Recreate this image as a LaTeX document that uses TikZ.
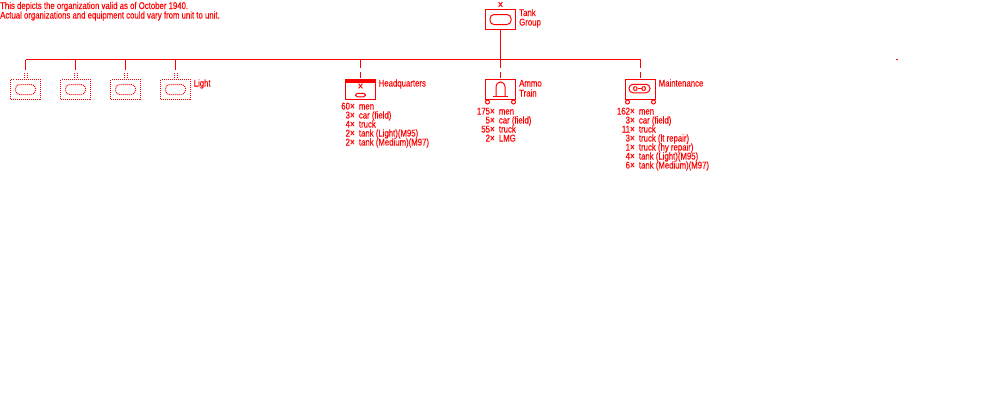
\documentclass[tikz,border=0pt]{standalone}
\usepackage{fontspec}
\setmainfont[FakeStretch=0.795,FakeBold=0.25]{Liberation Sans}
\definecolor{milred}{RGB}{255,0,0}
\newcommand{\fnt}{\fontsize{9.8}{9.8}\selectfont}
\newcommand{\bigx}{{\fontsize{10.4}{9.8}\selectfont ×}}
\tikzset{
  ink/.style={draw=milred,line width=1pt},
  unitbox/.style={ink,fill=white,rectangle,inner sep=0pt,minimum width=30pt,minimum height=20pt},
  dotbox/.style={unitbox,dash pattern=on 1pt off 1pt},
  pill/.style={ink,rectangle,rounded corners=4pt,inner sep=0pt},
  stub/.style={ink},
  whl/.style={ink,circle,inner sep=0pt,minimum size=4pt,fill=white},
  txt/.style={inner sep=0pt,text=milred,font=\fnt,anchor=base west,text height=6pt,text depth=1pt},
  cnt/.style={inner sep=0pt,text=milred,font=\fnt,anchor=base east,text height=6pt,text depth=1pt},
  mark x/.style={inner sep=0pt,text=milred,font=\fnt,anchor=base,text height=5pt,text depth=0pt},
}
\newcommand{\rowtxt}[5]{%
  \node[cnt] (#1c) at (#2,#3+3.5) {#4\bigx};
  \node[txt] (#1t) at (#2+3.7,#3+3.5) {#5};}
\begin{document}
\begin{tikzpicture}[x=1pt,y=-1pt]
\useasboundingbox (0,0) rectangle (1000,400);
% notes
\node[txt] (noteA) at (0,9) {This depicts the organization valid as of October 1940.};
\node[txt] (noteB) at (0,18.5) {Actual organizations and equipment could vary from unit to unit.};
% top unit
\node[unitbox] (group) at (500.5,19.5) {};
\node[pill,minimum width=21pt,minimum height=10pt] (groupsym) at (500.5,19.5) {};
\node[mark x] (groupx) at (500.5,8.3) {{\fontsize{11.5}{9.8}\selectfont ×}};
\node[txt] (groupa) at (519,16) {Tank};
\node[txt] (groupb) at (519,25.5) {Group};
% bar
\coordinate (j0) at (25.5,59.5);
\coordinate (j1) at (75.5,59.5);
\coordinate (j2) at (125.5,59.5);
\coordinate (j3) at (175.5,59.5);
\coordinate (jh) at (360.5,59.5);
\coordinate (ja) at (500.5,59.5);
\coordinate (jm) at (640.5,59.5);
\draw[ink] (j0) -- (jm);
% light units
\foreach \n/\x/\j in {l0/25.5/j0,l1/75.5/j1,l2/125.5/j2,l3/175.5/j3}{
  \node[dotbox] (\n) at (\x,89.5) {};
  \node[pill,dash pattern=on 1pt off 1pt,minimum width=20pt,minimum height=10pt] (\n s) at (\x,89.5) {};
  \coordinate (\n e) at (\x,70);
  \draw[ink] (\j) -- (\n e);
  \draw[ink,dash pattern=on 1pt off 1pt] (\x-1.5,73) -- (\x-1.5,78);
  \draw[ink,dash pattern=on 1pt off 1pt] (\x+1.5,73) -- (\x+1.5,78);
}
\node[txt] (lightl) at (193.5,86.5) {Light};
% HQ
\node[unitbox] (hq) at (360.5,89.5) {};
\fill[milred] (hq.north west) rectangle ([yshift=-4pt]hq.north east);
\node[mark x] (hqx) at (360.5,89.8) {{\fontsize{11.5}{9.8}\selectfont ×}};
\node[pill,rounded corners=1.7pt,minimum width=10pt,minimum height=3.5pt] (hqp) at (360.5,95) {};
\node[txt] (hql) at (378.5,86.5) {Headquarters};
\coordinate (hqs1) at (360.5,68);
\coordinate (hqs2) at (360.5,72);
\coordinate (hqs3) at (360.5,77.5);
\draw[ink] (jh) -- (hqs1);
\draw[stub] (hqs2) -- (hqs3);
\rowtxt{ha}{355}{106}{60}{men}
\rowtxt{hb}{355}{115}{3}{car (field)}
\rowtxt{hc}{355}{124}{4}{truck}
\rowtxt{hd}{355}{133}{2}{tank (Light)(M95)}
\rowtxt{he}{355}{142}{2}{tank (Medium)(M97)}
% Ammo
\node[unitbox] (am) at (500.5,89.5) {};
\draw[ink] (493,96.7) -- (508,96.7);
\draw[ink] (496,96.7) -- (496,86.5) arc[start angle=180,end angle=0,radius=4.5pt] -- (505,96.7);
\node[whl] (amw1) at (487.5,102) {};
\node[whl] (amw2) at (513.5,102) {};
\node[txt] (ama) at (519,86.5) {Ammo};
\node[txt] (amb) at (519,96.5) {Train};
\coordinate (ams1) at (500.5,68);
\coordinate (ams2) at (500.5,72);
\coordinate (ams3) at (500.5,77.5);
\draw[ink] (group.south) -- (ams1);
\draw[stub] (ams2) -- (ams3);
\rowtxt{aa}{495}{111}{175}{men}
\rowtxt{ab}{495}{120}{5}{car (field)}
\rowtxt{ac}{495}{129}{55}{truck}
\rowtxt{ad}{495}{138}{2}{LMG}
% Maintenance
\node[unitbox] (mt) at (640.5,89.5) {};
\node[pill,minimum width=21pt,minimum height=8.5pt] (mtp) at (639.5,88.5) {};
\draw[ink] (634.8,86.3) arc[start angle=120,end angle=240,radius=2.5pt];
\draw[ink] (635.5,86.3) arc[start angle=70,end angle=-70,radius=2.4pt];
\draw[ink] (644.2,86.3) arc[start angle=60,end angle=-60,radius=2.5pt];
\draw[ink] (643.5,86.3) arc[start angle=110,end angle=250,radius=2.4pt];
\coordinate (mtsa) at (637.5,88.5);
\coordinate (mtsb) at (641.5,88.5);
\draw[ink] (mtsa) -- (mtsb);
\node[whl] (mtw1) at (627.5,102) {};
\node[whl] (mtw2) at (653.5,102) {};
\node[txt] (mtl) at (658.5,86.5) {Maintenance};
\coordinate (mts1) at (640.5,68);
\coordinate (mts2) at (640.5,72);
\coordinate (mts3) at (640.5,77.5);
\draw[ink] (jm) -- (mts1);
\draw[stub] (mts2) -- (mts3);
\rowtxt{ma}{635}{111}{162}{men}
\rowtxt{mb}{635}{120}{3}{car (field)}
\rowtxt{mc}{635}{129}{11}{truck}
\rowtxt{md}{635}{138}{3}{truck (lt repair)}
\rowtxt{me}{635}{147}{1}{truck (hy repair)}
\rowtxt{mf}{635}{156}{4}{tank (Light)(M95)}
\rowtxt{mg}{635}{165}{6}{tank (Medium)(M97)}
% speck
\fill[milred] (896,58.5) rectangle (898,59.5);
\end{tikzpicture}
\end{document}
